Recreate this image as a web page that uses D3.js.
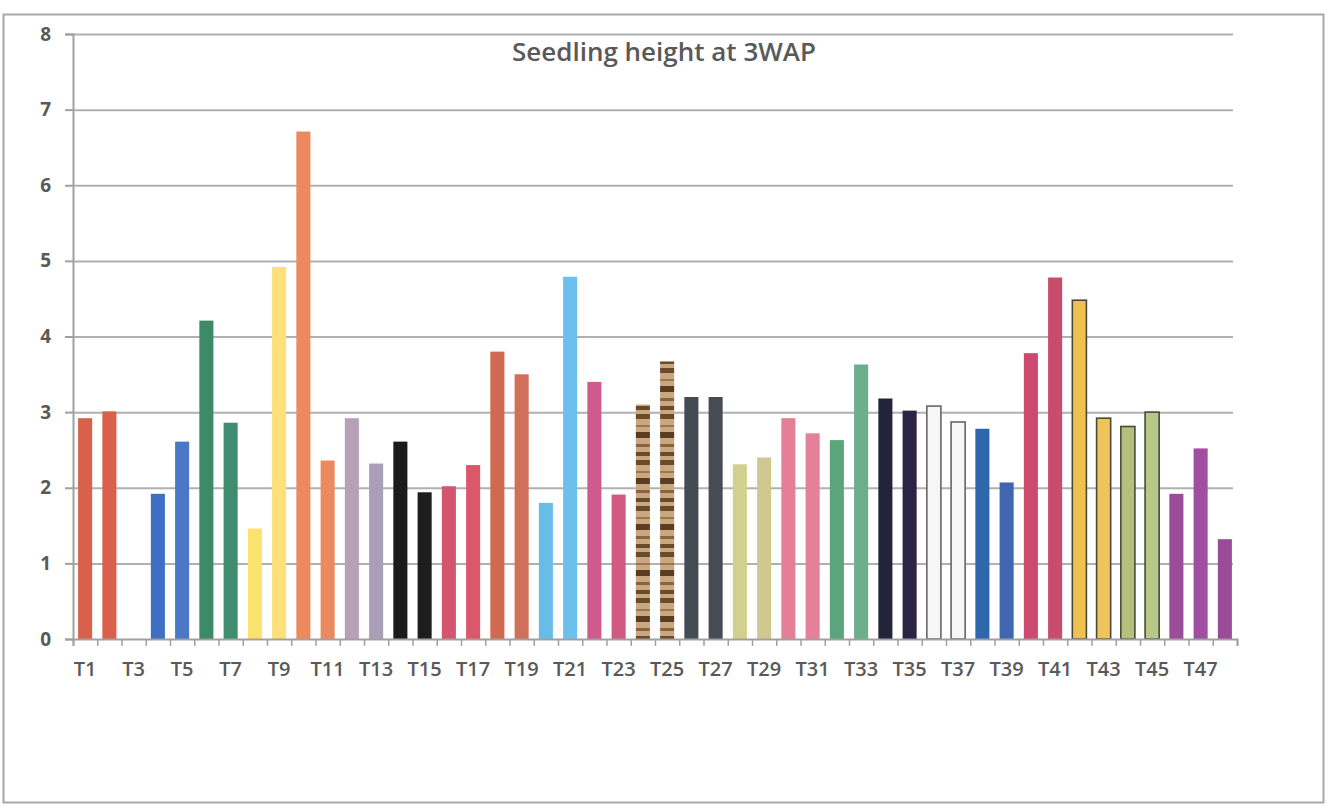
<!DOCTYPE html>
<html>
<head>
<meta charset="utf-8">
<script src="https://cdn.jsdelivr.net/npm/d3@7"></script>
<style>
  body { margin: 0; background: #fff; }
  svg { display: block; }
</style>
</head>
<body>
<svg id="chart"></svg>
<script>
// treatments T1..T48
const categories = d3.range(1, 49).map(i => 'T' + i)
const heights = [
  2.92, 3.01, 0, 1.92, 2.61, 4.21, 2.86, 1.46, 4.92, 6.71,
  2.36, 2.92, 2.32, 2.61, 1.94, 2.02, 2.30, 3.80, 3.50, 1.80,
  4.79, 3.40, 1.91, 3.10, 3.67, 3.20, 3.20, 2.31, 2.40, 2.92,
  2.72, 2.63, 3.63, 3.18, 3.02, 3.08, 2.87, 2.78, 2.07, 3.78,
  4.78, 4.48, 2.92, 2.81, 3.00, 1.92, 2.52, 1.32
]
const yTicks = [0, 1, 2, 3, 4, 5, 6, 7, 8]
const title = 'Seedling height at 3WAP'

// bar fills, one per treatment
const fills = [
  '#d9614b', '#d9614b', '#ccc', '#3f6fc4', '#4a78c6', '#3d8a68', '#3f8c6e', '#fde36e', '#fbe07c', '#ec8a5f',
  '#ec8a5f', '#b7a1b9', '#aa9eb9', '#1b1b1b', '#1d1d1d', '#d4566e', '#d9586a', '#cf6a50', '#d0705a', '#67bde8',
  '#6cc0ee', '#cf5a8e', '#d05a82', 'url(#wood)', 'url(#wood)', '#454b55', '#464b55', '#d1d08e', '#cfc890', '#e47f98',
  '#e48098', '#5aa57c', '#6aae8a', '#23233a', '#2c2444', '#f6f6f6', '#f6f6f6', '#2f66ac', '#3e67b0', '#cc4a70',
  '#c84c6c', '#f0c050', '#efc45a', '#b4c07c', '#b8c888', '#9a4e9a', '#a04ea0', '#9a4c98'
]
const outlined = { 'T36': '#666', 'T37': '#666', 'T42': '#4a4a3a', 'T43': '#4a4a3a', 'T44': '#4a4a3a', 'T45': '#4a4a3a' }

const W = 1331, H = 810
const mLeft = 73, mRight = 1237, mTop = 34, mBottom = 639

const svg = d3.select('#chart').attr('width', W).attr('height', H)

// wood texture for T24/T25
const pat = svg.append('defs').append('pattern')
  .attr('id', 'wood').attr('patternUnits', 'userSpaceOnUse')
  .attr('width', 16).attr('height', 46)
pat.append('rect').attr('width', 16).attr('height', 46).attr('fill', '#c9a77f')
;[[0, 5, '#6b4a2c'], [11, 2, '#9b7650'], [18, 6, '#5a3c22'], [30, 3, '#8a6440'], [38, 4, '#6b4a2c']].forEach(s => {
  pat.append('rect').attr('y', s[0]).attr('width', 16).attr('height', s[1]).attr('fill', s[2])
})

// outer frame
svg.append('rect')
  .attr('x', 3.5).attr('y', 14.5).attr('width', 1320).attr('height', 788)
  .attr('fill', 'none').attr('stroke', '#a8a8a8').attr('stroke-width', 2)

const x = d3.scaleBand().domain(categories).range([mLeft, mRight]).paddingInner(0.42).paddingOuter(0.21)
const y = d3.scaleLinear().domain([0, 8]).range([mBottom, mTop])

// gridlines
svg.append('g')
  .attr('transform', `translate(${mLeft},0)`)
  .call(d3.axisLeft(y).tickValues(yTicks.slice(1)).tickSize(-(mRight - 4 - mLeft)).tickFormat(''))
  .call(g => g.select('.domain').remove())
  .call(g => g.selectAll('line').attr('stroke', '#b0b0b0').attr('stroke-width', 2))

// y axis
svg.append('g')
  .attr('transform', `translate(${mLeft},0)`)
  .call(d3.axisLeft(y).tickValues(yTicks).tickSize(8).tickPadding(14))
  .call(g => g.select('.domain').attr('stroke', '#a0a0a0').attr('stroke-width', 2))
  .call(g => g.selectAll('line').attr('stroke', '#a0a0a0').attr('stroke-width', 2))
  .call(g => g.selectAll('text')
    .attr('fill', '#595959').attr('font-family', 'Open Sans, sans-serif')
    .attr('font-size', 19).attr('font-weight', 700))

// bars
svg.append('g').selectAll('rect')
  .data(categories.map((c, i) => ({ c, v: heights[i], fill: fills[i] })))
  .join('rect')
  .attr('x', d => x(d.c))
  .attr('y', d => y(d.v))
  .attr('width', x.bandwidth())
  .attr('height', d => y(0) - y(d.v))
  .attr('fill', d => d.fill)
  .attr('stroke', d => outlined[d.c] || 'none')
  .attr('stroke-width', 1.6)

// category boundary ticks
const xb = d3.scaleLinear().domain([0, categories.length]).range([mLeft, mRight])
svg.append('g')
  .attr('transform', `translate(0,${mBottom})`)
  .call(d3.axisBottom(xb).tickValues(d3.range(0, categories.length + 1)).tickSize(7).tickFormat(''))
  .call(g => g.select('.domain').attr('stroke', '#a0a0a0').attr('stroke-width', 2))
  .call(g => g.selectAll('line').attr('stroke', '#a0a0a0').attr('stroke-width', 1.5))

// category labels (every other one)
svg.append('g')
  .attr('transform', `translate(0,${mBottom})`)
  .call(d3.axisBottom(x).tickValues(categories.filter((c, i) => i % 2 === 0)).tickSize(0).tickPadding(23))
  .call(g => g.select('.domain').remove())
  .call(g => g.selectAll('text')
    .attr('fill', '#595959').attr('font-family', 'Open Sans, sans-serif')
    .attr('font-size', 20).attr('font-weight', 600))

svg.append('text')
  .attr('x', 664).attr('y', 61)
  .attr('text-anchor', 'middle')
  .attr('fill', '#595959')
  .attr('font-family', 'Open Sans, sans-serif')
  .attr('font-size', 26)
  .attr('font-weight', 600)
  .text(title)
</script>
</body>
</html>
